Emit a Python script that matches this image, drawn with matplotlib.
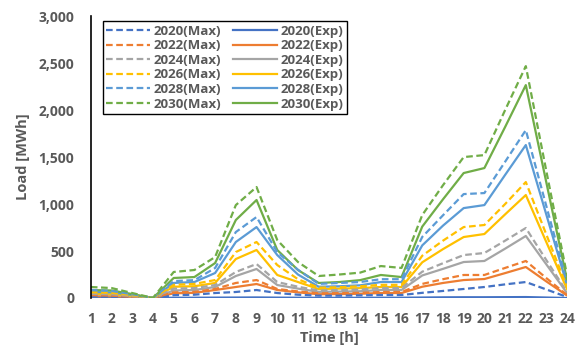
import numpy as np
import matplotlib.pyplot as plt
from matplotlib.lines import Line2D

plt.rcParams['font.family'] = ['Open Sans', 'DejaVu Sans']

hours = list(range(1, 25))
years = ['2020', '2022', '2024', '2026', '2028', '2030']
colors = ['#4472C4', '#ED7D31', '#A5A5A5', '#FFC000', '#5B9BD5', '#70AD47']

# hourly load [MWh], maximum scenario
max_2020 = [15, 12, 6, 0, 30, 35, 53, 64, 85, 53, 35, 25, 25, 28, 32, 32, 55, 75, 96, 117, 145, 170, 90, 10]
max_2022 = [30, 25, 12, 0, 60, 65, 96, 160, 191, 96, 70, 50, 52, 55, 64, 64, 150, 200, 245, 245, 320, 394, 210, 30]
max_2024 = [45, 40, 20, 0, 100, 105, 138, 277, 362, 170, 120, 80, 85, 90, 106, 106, 280, 370, 457, 479, 610, 745, 400, 60]
max_2026 = [60, 55, 30, 0, 140, 150, 191, 489, 596, 351, 200, 110, 115, 125, 140, 140, 450, 610, 755, 777, 1000, 1234, 670, 110]
max_2028 = [85, 75, 40, 0, 180, 190, 319, 702, 862, 489, 300, 150, 160, 170, 200, 200, 650, 880, 1106, 1117, 1450, 1787, 970, 160]
max_2030 = [117, 106, 53, 0, 277, 298, 436, 989, 1181, 617, 383, 234, 250, 270, 340, 320, 883, 1200, 1500, 1521, 2000, 2468, 1340, 230]

# hourly load [MWh], expected scenario
exp_2020 = [3, 2, 1, 0, 3, 3, 4, 5, 6, 4, 3, 2, 2, 2, 3, 3, 5, 7, 8, 8, 9, 10, 5, 0]
exp_2022 = [20, 18, 9, 0, 50, 55, 85, 117, 149, 85, 60, 40, 42, 45, 53, 53, 120, 160, 191, 202, 265, 330, 175, 25]
exp_2024 = [35, 30, 15, 0, 80, 85, 117, 234, 309, 138, 100, 65, 68, 72, 85, 85, 240, 310, 383, 394, 525, 660, 355, 50]
exp_2026 = [45, 40, 22, 0, 120, 125, 160, 415, 511, 245, 170, 95, 100, 105, 117, 117, 380, 520, 649, 681, 890, 1096, 590, 90]
exp_2028 = [64, 60, 32, 0, 160, 170, 266, 596, 755, 457, 250, 120, 125, 135, 170, 170, 560, 770, 957, 989, 1310, 1628, 880, 130]
exp_2030 = [85, 80, 42, 0, 213, 223, 372, 830, 1043, 511, 298, 160, 170, 190, 245, 223, 760, 1050, 1330, 1383, 1820, 2266, 1220, 180]

max_series = [max_2020, max_2022, max_2024, max_2026, max_2028, max_2030]
exp_series = [exp_2020, exp_2022, exp_2024, exp_2026, exp_2028, exp_2030]

fig = plt.figure(figsize=(5.86, 3.51), dpi=100)
ax = fig.add_axes([0.155, 0.151, 0.813, 0.803])

txt = '#595959'
for y, c, m, e in zip(years, colors, max_series, exp_series):
    ax.plot(hours, e, color=c, lw=1.6, solid_capstyle='round')
for y, c, m, e in zip(years, colors, max_series, exp_series):
    ax.plot(hours, m, color=c, lw=1.6, ls=(0, (3, 1.6)))

handles = [Line2D([], [], color=c, lw=1.6, ls=(0, (3, 1.6))) for c in colors]
handles += [Line2D([], [], color=c, lw=1.6) for c in colors]
labels = [y + '(Max)' for y in years] + [y + '(Exp)' for y in years]
leg = ax.legend(handles, labels, ncol=2, loc='upper left', bbox_to_anchor=(0.012, 1.005),
                fancybox=False, framealpha=1, edgecolor='black', borderpad=0.25,
                labelspacing=0.12, handlelength=3.3, handletextpad=0.3, columnspacing=0.9,
                prop={'size': 9.5, 'weight': 'bold'})
leg.get_frame().set_linewidth(1.0)
for t in leg.get_texts():
    t.set_color(txt)

ax.set_xlim(1, 24)
ax.set_ylim(0, 3000)
ax.set_xticks(hours)
ax.set_yticks(np.arange(0, 3001, 500))
ax.set_yticklabels(['{:,}'.format(v) for v in range(0, 3001, 500)])
ax.tick_params(length=0, labelsize=10, labelcolor=txt)
ax.tick_params(axis='y', pad=12)
ax.tick_params(axis='x', pad=10)
for lab in ax.get_xticklabels() + ax.get_yticklabels():
    lab.set_fontweight('bold')
for s in ['top', 'right', 'bottom']:
    ax.spines[s].set_visible(False)
ax.spines['left'].set_color('black')
ax.spines['left'].set_linewidth(1.2)

ax.set_xlabel('Time [h]', fontsize=10.5, fontweight='bold', color=txt, labelpad=4)
ax.set_ylabel('Load [MWh]', fontsize=10.5, fontweight='bold', color=txt, labelpad=6)

fig.savefig('out.png', dpi=100)
